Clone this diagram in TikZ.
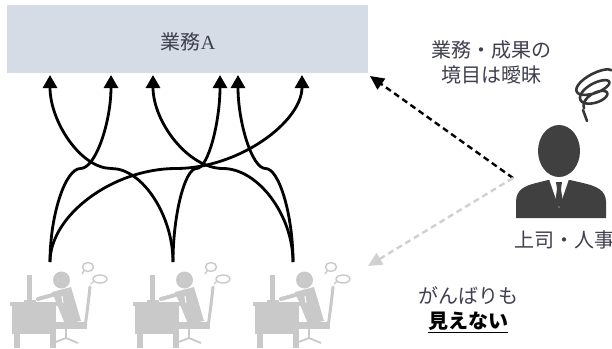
\documentclass[tikz,border=0pt]{standalone}
\usepackage{fontspec}
\setmainfont{Liberation Serif}
\newfontfamily\jp{Noto Sans CJK JP}
\usetikzlibrary{arrows.meta,calc}

\definecolor{taskfill}{HTML}{D6DCE5}
\definecolor{labelgray}{HTML}{3F3F4F}
\definecolor{bossgray}{HTML}{404040}
\definecolor{staffgray}{HTML}{C9C9C9}
\definecolor{hidegray}{HTML}{D0D0D0}

\tikzset{
  % S-shaped connector, vertical at both ends, level at half height
  sconn/.style={to path={let \p1=(\tikztostart), \p2=(\tikztotarget) in
      .. controls (\x1,{(3*\y1+\y2)/4}) and ({(3*\x1+\x2)/4},{(\y1+\y2)/2})
      .. ({(\x1+\x2)/2},{(\y1+\y2)/2})
      .. controls ({(\x1+3*\x2)/4},{(\y1+\y2)/2}) and (\x2,{(\y1+3*\y2)/4})
      .. (\tikztotarget)}},
  flow/.style={line width=2.8pt, -{Triangle[width=14pt,length=13pt]}, sconn},
  look/.style={line width=2.4pt, dash pattern=on 6pt off 4pt,
      -{Triangle[width=13pt,length=14pt]}},
  taskbox/.style={fill=taskfill, minimum width=361pt, minimum height=68pt, inner sep=0pt},
  lbl/.style={text=labelgray, font=\jp\fontsize{20pt}{25pt}\selectfont, align=center, inner sep=0pt},
  scribble/.style={line width=2.6pt, bossgray!85!black, line cap=round, line join=round}
}

\begin{document}
\begin{tikzpicture}[x=1pt,y=-1pt]
\useasboundingbox (0,0) rectangle (612,348);

% the task
\node[taskbox] (task) at (187.5,39) {};
\node[lbl] (tasklabel) at (188,42) {業務{\rmfamily A}};

% where the arrows land
\coordinate (in1) at (50,75);
\coordinate (in2) at (111,75);
\coordinate (in3) at (153,75);
\coordinate (in4) at (220,75);
\coordinate (in5) at (238,75);
\coordinate (in6) at (302,75);

% staff at their desks
\foreach \dx [count=\i] in {0,123,243} {
  \coordinate (staff\i) at ({50+\dx},262);
  \begin{scope}[shift={(\dx,0)}, staffgray]
    \fill (10,302) rectangle (59,306);
    \fill (12,306) rectangle (56,334);
    \fill (14,334) rectangle (20,348);
    \fill (50,334) rectangle (56,348);
    \fill (27,275) rectangle (32,302);
    \fill (24,300) rectangle (36,302);
    \fill (61.5,280) circle (8.5);
    \fill (52,292) -- (71,287) -- (81,321) -- (65,324) -- cycle;
    \draw[line width=4pt, line cap=round] (56,294) -- (38,299);
    \draw[white, line width=1pt] (62,296) -- (63,303);
    \draw[line width=3pt, line cap=round] (90,287) .. controls (88,305) .. (85,327);
    \fill (55,322) rectangle (87,329);
    \draw[line width=2.5pt] (66,329) -- (66,339);
    \draw[line width=1.8pt] (53,343) -- (66,338) -- (78,343);
    \draw[line width=1.4pt] (88,267) ellipse [x radius=5.5, y radius=4.5]
      (84,271) -- (82,274);
    \draw[line width=1.4pt] (100,279) ellipse [x radius=7, y radius=4]
      (94,281) -- (91,284);
  \end{scope}
}

% who works on what
\draw[flow] (staff1) to (in2);
\draw[flow] (staff1) to (in6);
\draw[flow] (staff2) to (in1);
\draw[flow] (staff2) to (in4);
\draw[flow] (staff3) to (in3);
\draw[flow] (staff3) to (in5);

% the boss
\fill[bossgray] (559,151) ellipse [x radius=21, y radius=26];
\fill[bossgray] (516,218) -- (516,202) .. controls (516,190) and (524,186) .. (536,183)
  -- (548,180) -- (570,180) -- (583,183) .. controls (596,186) and (606,190) .. (606,202)
  -- (606,218) -- cycle;
\fill[white] (549,179) -- (569,179) -- (559,208) -- cycle;
\fill[bossgray] (556,182) -- (562,182) -- (561,189) -- (563,203) -- (559,207)
  -- (555,203) -- (557,189) -- cycle;
\node[lbl, anchor=west] (bosslabel) at (514,240) {上司・人事};
\coordinate (boss) at (513,178);

% tangled thoughts
\draw[scribble] (587,121) .. controls (585,116) .. (583,110);
\draw[scribble] plot[domain=0:1, samples=140, smooth]
  ({595-2*\x + 0.906*(12+8*\x)*cos(180+900*\x) + 0.423*7*sin(180+900*\x)},
   {103-24*\x - 0.423*(12+8*\x)*cos(180+900*\x) + 0.906*7*sin(180+900*\x)});

% what the boss sees
\draw[look] (boss) -- (370,76) coordinate (seen);
\draw[look, hidegray] (boss) -- (368,266) coordinate (unseen);

\node[lbl] (blur) at (491,62) {業務・成果の\\境目は曖昧};
\node[lbl] (effort) at (468,310) {がんばりも\\{\bfseries\color{black}\underline{見えない}}};
\end{tikzpicture}
\end{document}
